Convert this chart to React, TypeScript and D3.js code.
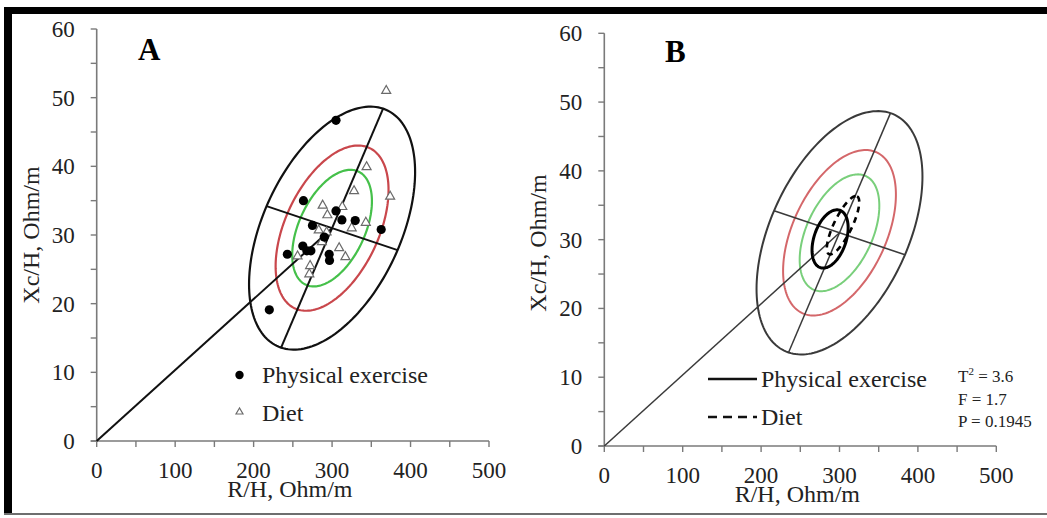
import React from "react";
import * as d3 from "d3";

// ---------- data ----------
const xTicks = [0, 100, 200, 300, 400, 500];
const yTicks = [0, 10, 20, 30, 40, 50, 60];
const xMinorTicks = [0, 50, 100, 150, 200, 250, 300, 350, 400, 450, 500];
const yMinorTicks = [0, 5, 10, 15, 20, 25, 30, 35, 40, 45, 50, 55, 60];

// Panel A scatter (R/H, Xc/H)
const exercisePoints: [number, number][] = [
  [305, 46.7], [263.5, 35.0], [305, 33.5], [312.5, 32.2], [329.5, 32.1],
  [275, 31.4], [362.6, 30.8], [290, 29.7], [262.7, 28.4], [267.8, 27.7],
  [273, 27.7], [296.3, 27.2], [296.7, 26.3], [243, 27.2], [220, 19.1],
];
const dietPoints: [number, number][] = [
  [369, 51.0], [344, 39.9], [328, 36.4], [374, 35.6], [288, 34.3],
  [313, 34.1], [294, 32.9], [343, 31.8], [325, 31.0], [283, 30.7],
  [293, 30.4], [287, 29.0], [309, 28.1], [317, 26.8], [256, 26.9],
  [272, 25.5], [271, 24.3],
];

// Reference tolerance ellipses (center, conjugate semi-axes in data units)
const refCenter: [number, number] = [300, 31];
const refMajor: [number, number] = [65, 17.4];
const refMinor: [number, number] = [83.5, -3.2];
const refLevels = [1, 0.68, 0.48];
const refColorsA = ["#111111", "#c9474c", "#45c04a"];
const refColorsB = ["#3a3a3a", "#d4676a", "#79cf7b"];

// Panel B mean confidence ellipses
const exerciseEllipse = { c: [288, 30.1], u: [12.4, 4.17], v: [19.4, -0.74] };
const dietEllipse = { c: [304.5, 32.1], u: [17.9, 4.2], v: [10.3, -0.57] };

const statLines = ["= 3.6", "F = 1.7", "P = 0.1945"];

// ---------- helpers ----------
const FONT = "'Liberation Serif', 'Times New Roman', serif";

function ellipsePts(
  c: number[], u: number[], v: number[], k: number,
  sx: d3.ScaleLinear<number, number>, sy: d3.ScaleLinear<number, number>
): [number, number][] {
  const n = 180;
  return d3.range(n).map((i) => {
    const t = (i / n) * Math.PI * 2;
    const x = c[0] + k * (Math.cos(t) * u[0] + Math.sin(t) * v[0]);
    const y = c[1] + k * (Math.cos(t) * u[1] + Math.sin(t) * v[1]);
    return [sx(x), sy(y)];
  });
}
const closedLine = d3.line().curve(d3.curveLinearClosed);

function Axes({ sx, sy, titleYc }: any) {
  const x0 = sx(0), y0 = sy(0);
  return (
    <g fontFamily={FONT} fill="#222">
      <line x1={x0} y1={sy(60)} x2={x0} y2={y0} stroke="#7a7a7a" strokeWidth={1.6} />
      <line x1={x0 - 6} y1={y0} x2={sx(500)} y2={y0} stroke="#7a7a7a" strokeWidth={1.6} />
      {yMinorTicks.map((t) => (
        <line key={"ym" + t} x1={x0 - 6} x2={x0} y1={sy(t)} y2={sy(t)} stroke="#7a7a7a" strokeWidth={1.4} />
      ))}
      {xMinorTicks.map((t) => (
        <line key={"xm" + t} x1={sx(t)} x2={sx(t)} y1={y0} y2={y0 + 6} stroke="#7a7a7a" strokeWidth={1.4} />
      ))}
      {yTicks.map((t) => (
        <text key={"yl" + t} x={x0 - 22} y={sy(t)} dy="0.35em" textAnchor="end" fontSize={23}>{t}</text>
      ))}
      {xTicks.map((t) => (
        <text key={"xl" + t} x={sx(t)} y={y0 + 37} textAnchor="middle" fontSize={23}>{t}</text>
      ))}
      <text x={sx(250) - 3} y={y0 + 56} textAnchor="middle" fontSize={24}>R/H, Ohm/m</text>
      <text transform={`translate(${x0 - 58},${titleYc}) rotate(-90)`} textAnchor="middle" fontSize={24}>Xc/H, Ohm/m</text>
    </g>
  );
}

function RefEllipses({ sx, sy, colors, width, lineColor, lineWidth }: any) {
  const c = refCenter;
  const seg = (a: number[], s: number) => [sx(c[0] + s * a[0]), sy(c[1] + s * a[1])];
  const [m1x, m1y] = seg(refMajor, 1), [m2x, m2y] = seg(refMajor, -1);
  const [n1x, n1y] = seg(refMinor, 1), [n2x, n2y] = seg(refMinor, -1);
  return (
    <g fill="none">
      {refLevels.map((k, i) => (
        <path key={i} d={closedLine(ellipsePts(c, refMajor, refMinor, k, sx, sy)) || ""}
          stroke={colors[i]} strokeWidth={width} />
      ))}
      <line x1={m1x} y1={m1y} x2={m2x} y2={m2y} stroke={lineColor} strokeWidth={lineWidth} />
      <line x1={n1x} y1={n1y} x2={n2x} y2={n2y} stroke={lineColor} strokeWidth={lineWidth} />
      <line x1={sx(0)} y1={sy(0)} x2={sx(c[0])} y2={sy(c[1])} stroke={lineColor} strokeWidth={lineWidth} />
    </g>
  );
}

function tri(cx: number, cy: number, w: number, h: number) {
  return `M${cx},${cy - (2 * h) / 3}L${cx - w / 2},${cy + h / 3}L${cx + w / 2},${cy + h / 3}Z`;
}

export default function App() {
  const xA = d3.scaleLinear().domain([0, 500]).range([96.7, 489]);
  const yA = d3.scaleLinear().domain([0, 60]).range([441, 29]);
  const xB = d3.scaleLinear().domain([0, 500]).range([604.3, 996.3]);
  const yB = d3.scaleLinear().domain([0, 60]).range([446, 33.3]);

  return (
    <svg width={1047} height={518} style={{ position: "absolute", left: 0, top: 0, background: "#fff" }}>
      {/* frame */}
      <rect x={4} y={7} width={1043} height={7} fill="#000" />
      <rect x={4} y={7} width={8} height={508} fill="#000" />
      <line x1={4} x2={1047} y1={514} y2={514} stroke="#6e6e6e" strokeWidth={2} />

      {/* ---------- Panel A ---------- */}
      <Axes sx={xA} sy={yA} titleYc={235} />
      <RefEllipses sx={xA} sy={yA} colors={refColorsA} width={2.2} lineColor="#111" lineWidth={2} />
      {dietPoints.map((p, i) => (
        <path key={"d" + i} d={tri(xA(p[0]), yA(p[1]), 9, 8)} fill="#fff" stroke="#6a6a6a" strokeWidth={1.2} />
      ))}
      {exercisePoints.map((p, i) => (
        <circle key={"e" + i} cx={xA(p[0])} cy={yA(p[1])} r={4.6} fill="#000" />
      ))}
      <text x={138} y={60} fontFamily={FONT} fontWeight="bold" fontSize={31}>A</text>
      <g fontFamily={FONT} fontSize={24} fill="#222">
        <circle cx={239.5} cy={375} r={4.2} fill="#000" />
        <text x={262} y={383}>Physical exercise</text>
        <path d={tri(239.5, 412, 7, 6)} fill="#fff" stroke="#6a6a6a" strokeWidth={1.2} />
        <text x={262} y={421}>Diet</text>
      </g>

      {/* ---------- Panel B ---------- */}
      <Axes sx={xB} sy={yB} titleYc={243} />
      <RefEllipses sx={xB} sy={yB} colors={refColorsB} width={2} lineColor="#3a3a3a" lineWidth={1.5} />
      <path d={closedLine(ellipsePts(exerciseEllipse.c, exerciseEllipse.u, exerciseEllipse.v, 1, xB, yB)) || ""}
        fill="none" stroke="#000" strokeWidth={3} />
      <path d={closedLine(ellipsePts(dietEllipse.c, dietEllipse.u, dietEllipse.v, 1, xB, yB)) || ""}
        fill="none" stroke="#000" strokeWidth={2.6} strokeDasharray="6,5" />
      <text x={665} y={62} fontFamily={FONT} fontWeight="bold" fontSize={31}>B</text>
      <g fontFamily={FONT} fontSize={24} fill="#222">
        <line x1={708} x2={757} y1={379} y2={379} stroke="#111" strokeWidth={2.6} />
        <text x={761} y={387}>Physical exercise</text>
        <line x1={708} x2={757} y1={417} y2={417} stroke="#111" strokeWidth={2.6} strokeDasharray="9,6" />
        <text x={761} y={425}>Diet</text>
      </g>
      <g fontFamily={FONT} fontSize={17} fill="#222">
        <text x={958} y={382}>T<tspan dy={-7} fontSize={11}>2</tspan><tspan dy={7}> {statLines[0]}</tspan></text>
        <text x={958} y={405}>{statLines[1]}</text>
        <text x={958} y={427}>{statLines[2]}</text>
      </g>
    </svg>
  );
}
